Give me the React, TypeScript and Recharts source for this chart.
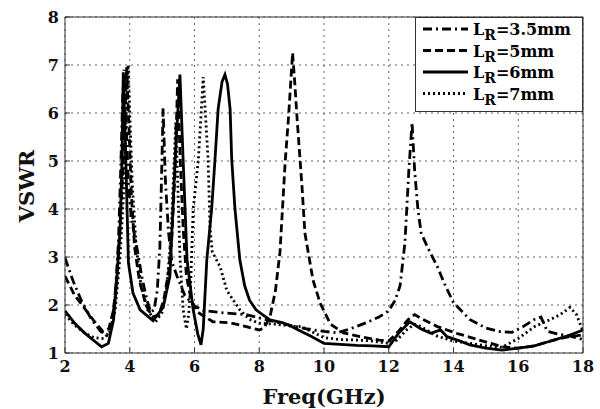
import React from 'react';
import { LineChart, Line, XAxis, YAxis, CartesianGrid, Legend } from 'recharts';

// [frequency in GHz, VSWR]
const lr35: [number, number][] = [
  [2.0, 2.98], [2.25, 2.5], [2.5, 2.1], [2.8, 1.72], [3.1, 1.45], [3.3, 1.38], [3.45, 1.6], [3.55, 2.2],
  [3.65, 3.3], [3.72, 4.8], [3.78, 6.3], [3.82, 6.9], [3.88, 6.0], [3.95, 4.6], [4.05, 3.8], [4.22, 3.2],
  [4.37, 2.6], [4.53, 2.1], [4.65, 1.85], [4.75, 1.9], [4.85, 2.3], [4.93, 3.2], [4.98, 4.6], [5.03, 6.1],
  [5.1, 4.6], [5.2, 3.5], [5.3, 2.9], [5.46, 2.6], [5.7, 2.2], [6.0, 1.98], [6.3, 1.88], [7.0, 1.83],
  [7.6, 1.8], [8.3, 1.68], [9.0, 1.57], [9.5, 1.5], [10.0, 1.45], [10.4, 1.42], [10.8, 1.5], [11.3, 1.63],
  [11.7, 1.75], [12.0, 1.88], [12.2, 2.1], [12.35, 2.4], [12.5, 3.3], [12.62, 4.8], [12.72, 5.8], [12.8, 4.8],
  [12.9, 4.0], [13.0, 3.5], [13.2, 3.2], [13.5, 2.8], [13.75, 2.4], [14.0, 2.05], [14.5, 1.7], [15.0, 1.52],
  [15.4, 1.45], [15.8, 1.43], [16.15, 1.55], [16.5, 1.7], [16.7, 1.75], [16.9, 1.45], [17.2, 1.4], [17.6, 1.35],
  [18.0, 1.28],
];

const lr5: [number, number][] = [
  [2.0, 2.6], [2.3, 2.2], [2.56, 1.97], [2.87, 1.69], [3.17, 1.45], [3.35, 1.5], [3.5, 1.9], [3.6, 2.6],
  [3.7, 3.6], [3.8, 5.0], [3.9, 6.95], [3.97, 5.8], [4.05, 4.3], [4.15, 3.2], [4.3, 2.5], [4.5, 2.0],
  [4.7, 1.75], [4.9, 1.8], [5.05, 2.1], [5.2, 2.7], [5.3, 3.4], [5.4, 4.8], [5.48, 6.7], [5.56, 5.0],
  [5.65, 3.6], [5.75, 2.6], [5.9, 2.1], [6.1, 1.85], [6.57, 1.65], [7.1, 1.63], [7.6, 1.55], [8.0, 1.48],
  [8.15, 1.52], [8.33, 1.75], [8.5, 2.3], [8.64, 3.1], [8.8, 4.97], [8.9, 5.87], [9.03, 7.25], [9.1, 6.6],
  [9.17, 5.87], [9.32, 4.47], [9.41, 3.5], [9.66, 2.52], [9.88, 2.04], [10.2, 1.6], [10.6, 1.42], [11.2, 1.33],
  [11.7, 1.27], [12.0, 1.25], [12.3, 1.45], [12.6, 1.7], [12.8, 1.8], [13.0, 1.72], [13.5, 1.55], [14.1, 1.41],
  [14.8, 1.27], [15.5, 1.13], [16.0, 1.1], [16.5, 1.15], [17.1, 1.27], [17.5, 1.33], [18.0, 1.38],
];

const lr6: [number, number][] = [
  [2.0, 1.88], [2.3, 1.62], [2.6, 1.42], [2.87, 1.27], [3.13, 1.13], [3.34, 1.2], [3.5, 1.69], [3.6, 2.52],
  [3.7, 3.57], [3.76, 5.0], [3.8, 6.85], [3.86, 5.5], [3.96, 2.87], [4.1, 2.25], [4.32, 1.9], [4.72, 1.67],
  [5.03, 1.95], [5.24, 2.6], [5.4, 5.0], [5.55, 6.8], [5.65, 5.0], [5.77, 2.94], [5.96, 1.9], [6.1, 1.4],
  [6.2, 1.17], [6.27, 1.5], [6.38, 2.94], [6.53, 4.0], [6.63, 5.0], [6.73, 6.08], [6.85, 6.65], [6.94, 6.8],
  [7.02, 6.6], [7.1, 6.08], [7.15, 5.03], [7.25, 4.0], [7.4, 2.94], [7.55, 2.4], [7.7, 2.1], [7.9, 1.9],
  [8.1, 1.8], [8.33, 1.69], [8.74, 1.63], [9.0, 1.55], [9.3, 1.45], [9.6, 1.35], [10.0, 1.2], [10.5, 1.18],
  [11.0, 1.16], [11.5, 1.15], [12.0, 1.13], [12.3, 1.41], [12.65, 1.65], [13.0, 1.5], [13.3, 1.41], [13.6, 1.48],
  [13.8, 1.34], [14.2, 1.25], [14.5, 1.17], [15.0, 1.1], [15.5, 1.06], [16.0, 1.1], [16.5, 1.15], [17.0, 1.25],
  [17.5, 1.35], [18.0, 1.48],
];

const lr7: [number, number][] = [
  [2.0, 1.8], [2.3, 1.58], [2.6, 1.42], [2.9, 1.32], [3.2, 1.3], [3.4, 1.45], [3.55, 1.9], [3.7, 3.0],
  [3.8, 4.2], [3.88, 5.8], [3.95, 7.0], [4.0, 6.0], [4.08, 4.5], [4.2, 3.2], [4.35, 2.4], [4.55, 1.9],
  [4.8, 1.65], [5.0, 1.85], [5.15, 2.4], [5.28, 3.5], [5.36, 4.8], [5.42, 5.8], [5.48, 4.6], [5.55, 3.0],
  [5.65, 1.9], [5.75, 1.5], [5.82, 1.8], [5.88, 2.4], [5.96, 4.0], [6.12, 5.03], [6.27, 6.75], [6.42, 5.03],
  [6.48, 3.6], [6.55, 3.1], [6.79, 2.8], [7.0, 2.3], [7.4, 1.9], [7.7, 1.7], [8.0, 1.62], [8.5, 1.6],
  [9.0, 1.56], [9.3, 1.55], [9.6, 1.45], [10.0, 1.32], [10.5, 1.28], [11.0, 1.27], [11.5, 1.25], [12.0, 1.2],
  [12.25, 1.27], [12.55, 1.48], [12.8, 1.6], [13.0, 1.55], [13.5, 1.35], [14.0, 1.25], [14.5, 1.2], [15.0, 1.15],
  [15.5, 1.12], [16.0, 1.3], [16.5, 1.55], [17.0, 1.7], [17.3, 1.8], [17.6, 1.95], [17.8, 1.8], [18.0, 1.45],
];

const xTicks = [2, 4, 6, 8, 10, 12, 14, 16, 18];
const yTicks = [1, 2, 3, 4, 5, 6, 7, 8];

const series = [
  { name: '3.5mm', points: lr35, dash: '9 4 2 4' },
  { name: '5mm', points: lr5, dash: '8 4' },
  { name: '6mm', points: lr6, dash: undefined },
  { name: '7mm', points: lr7, dash: '2 3' },
];

const toRows = (pts: [number, number][]) => pts.map(([f, v]) => ({ f, v }));

const FONT = '"DejaVu Serif", "Liberation Serif", serif';
const tickStyle = { fontFamily: FONT, fontWeight: 700, fontSize: 16, fill: '#111' };

const LegendBox = () => (
  <svg width={168} height={95} style={{ display: 'block' }}>
    <rect x={0.5} y={0.5} width={167} height={94} fill="#fff" stroke="#333" strokeWidth={1} />
    {series.map((s, i) => {
      const cy = 12 + i * 21.5;
      return (
        <g key={s.name}>
          <line x1={8} x2={53} y1={cy} y2={cy} stroke="#000" strokeWidth={2.8} strokeDasharray={s.dash} />
          <text x={58} y={cy + 6} fontFamily={FONT} fontWeight={700} fontSize={16} fill="#000">
            L
            <tspan fontSize={14} dy={5}>R</tspan>
            <tspan dy={-5}>={s.name}</tspan>
          </text>
        </g>
      );
    })}
  </svg>
);

export default function App() {
  return (
    <div style={{ position: 'absolute', left: 0, top: 0, width: 600, height: 409, background: '#fff' }}>
      <LineChart width={600} height={409} margin={{ top: 16, right: 16, bottom: 16, left: 15 }}>
        <CartesianGrid stroke="#666" strokeDasharray="2 4" />
        <XAxis
          type="number"
          dataKey="f"
          domain={[2, 18]}
          ticks={xTicks}
          allowDataOverflow
          height={40}
          tickSize={-5}
          tickMargin={13}
          tick={tickStyle}
          axisLine={{ stroke: '#333' }}
          tickLine={{ stroke: '#333' }}
          label={{
            content: () => (
              <text x={324} y={404} textAnchor="middle" fontFamily={FONT} fontWeight={700} fontSize={21} fill="#111">
                Freq(GHz)
              </text>
            ),
          }}
        />
        <XAxis
          xAxisId="top"
          orientation="top"
          type="number"
          dataKey="f"
          domain={[2, 18]}
          ticks={xTicks}
          height={1}
          tickSize={-5}
          tickFormatter={() => ''}
          axisLine={{ stroke: '#333' }}
          tickLine={{ stroke: '#333' }}
        />
        <YAxis
          type="number"
          domain={[1, 8]}
          ticks={yTicks}
          allowDataOverflow
          width={50}
          tickSize={-5}
          tickMargin={11}
          tick={tickStyle}
          axisLine={{ stroke: '#333' }}
          tickLine={{ stroke: '#333' }}
          label={{
            content: () => (
              <text
                x={26}
                y={186}
                transform="rotate(-90 26 186)"
                textAnchor="middle"
                dominantBaseline="central"
                fontFamily={FONT}
                fontWeight={700}
                fontSize={21}
                fill="#111"
              >
                VSWR
              </text>
            ),
          }}
        />
        <YAxis
          yAxisId="right"
          orientation="right"
          type="number"
          domain={[1, 8]}
          ticks={yTicks}
          width={1}
          tickSize={-5}
          tickFormatter={() => ''}
          axisLine={{ stroke: '#333' }}
          tickLine={{ stroke: '#333' }}
        />
        <Legend
          layout="horizontal"
          verticalAlign="middle"
          align="center"
          wrapperStyle={{ left: 415, top: 17, width: 168, height: 95 }}
          content={() => <LegendBox />}
        />
        {series.map((s) => (
          <Line
            key={s.name}
            data={toRows(s.points)}
            dataKey="v"
            name={`LR=${s.name}`}
            type="linear"
            stroke="#000"
            strokeWidth={2.8}
            strokeDasharray={s.dash}
            dot={false}
            isAnimationActive={false}
          />
        ))}
      </LineChart>
    </div>
  );
}
